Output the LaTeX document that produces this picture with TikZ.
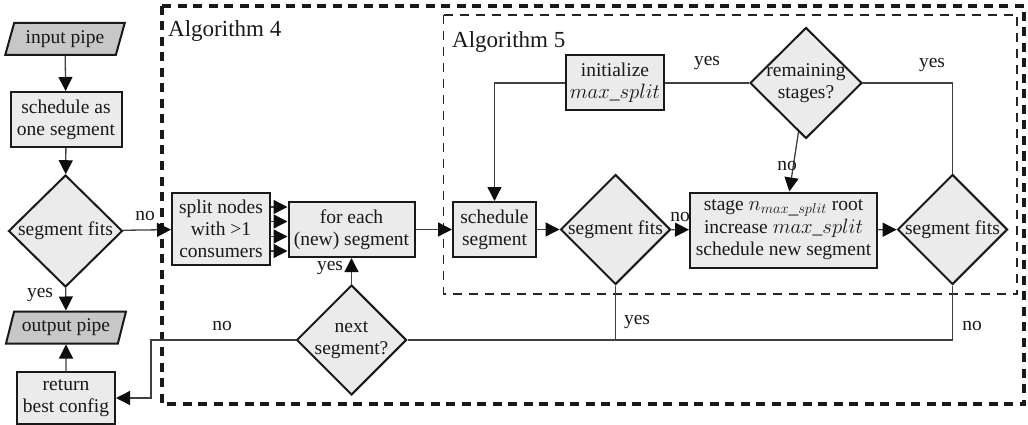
\documentclass[tikz,border=0pt]{standalone}
\usepackage{fontspec}
\setmainfont{Liberation Serif}
\usetikzlibrary{shapes.geometric,arrows.meta,calc}
\begin{document}
\begin{tikzpicture}[x=1pt,y=-1pt,
  txt/.style={font=\fontsize{19.5}{22}\selectfont, text=black!90},
  box/.style={txt, draw=black!90, line width=2pt, fill=black!8, align=center, inner sep=0pt},
  pipe/.style={txt, draw=black!90, line width=2pt, fill=black!22, trapezium, trapezium stretches=true,
     trapezium left angle=68, trapezium right angle=112, inner sep=0pt, minimum width=120pt, minimum height=32pt},
  dia/.style={txt, draw=black!90, line width=2pt, fill=black!8, diamond, align=center,
     inner xsep=-10pt, inner ysep=0pt, minimum width=110pt, minimum height=110pt},
  conn/.style={draw=black!75, line width=1.3pt},
  arr/.style={conn, -{Triangle[length=14pt,width=14pt,fill=black!95,color=black!95]}},
  lab/.style={txt, inner sep=0pt},
  alglab/.style={font=\fontsize{23}{26}\selectfont, text=black!90, inner sep=0pt, anchor=base west},
  outerbox/.style={draw=black!90, line width=4pt, dash pattern=on 9pt off 6.5pt},
  innerbox/.style={draw=black!85, line width=1.8pt, dash pattern=on 9pt off 7pt}
]
\useasboundingbox (0,0) rectangle (1028,425);

% frames
\draw[outerbox] (162,6) rectangle (1024,404);
\draw[innerbox] (443.5,15) rectangle (1017,294);
\node[alglab] (a4) at (168,37) {Algorithm 4};
\node[alglab] (a5) at (452,48) {Algorithm 5};

% left column
\node[pipe] (ip) at (65,39) {input pipe};
\node[box, minimum width=111pt, minimum height=55pt] (sched) at (66,119.5) {schedule as\\one segment};
\node[dia, minimum width=114pt, minimum height=112pt] (fits0) at (65.5,231) {segment fits};
\node[pipe] (op) at (66,327.5) {output pipe};
\node[box, minimum width=98pt, minimum height=52pt] (ret) at (66,398) {return\\best config};

% algorithm 4
\node[box, minimum width=98pt, minimum height=72pt] (split) at (221,229) {split nodes\\with >1\\consumers};
\node[box, minimum width=126pt, minimum height=55pt] (fe) at (351.5,229.5) {for each\\(new) segment};
\node[dia] (ns) at (351.5,340) {next\\segment?};

% algorithm 5
\node[box, minimum width=83pt, minimum height=55pt] (ss) at (494.5,229.5) {schedule\\segment};
\node[dia] (sf1) at (615.5,229.5) {segment fits};
\node[box, minimum width=187pt, minimum height=75pt] (stage) at (783.5,230)
  {stage $n_{max\_split}$ root\\[1pt]increase $max\_split$\\schedule new segment};
\node[dia] (sf2) at (952.5,229.5) {segment fits};
\node[box, minimum width=98pt, minimum height=55pt] (init) at (615,83) {initialize\\$max\_split$};
\node[dia, minimum width=112pt, minimum height=111pt] (rem) at (806,83) {remaining\\stages?};

\coordinate (nocorner) at (151,340);

% connectors
\draw[arr] (ip) -- (sched);
\draw[arr] (sched) -- (fits0);
\draw[arr] (fits0) -- (op);
\draw[arr] (ret) -- (op);
\draw[arr] (fits0) -- (split);
\foreach \s in {22,7.5,-7.5,-22}
  \draw[arr] ([yshift=\s pt]split.east) -- ([yshift=\s pt]split.east -| fe.west);
\draw[arr] (fe) -- (ss);
\draw[arr] (ns) -- (fe);
\draw[arr] (ns.west) -- (nocorner) |- (ret.east);
\draw[conn] (sf2.south) |- (ns.east);
\draw[conn] (sf1.south) -- (sf1.south |- ns.east);
\draw[arr] (ss) -- (sf1);
\draw[arr] (sf1) -- (stage);
\draw[arr] (stage) -- (sf2);
\draw[arr] (rem) -- (stage);
\draw[conn] (rem.west) -- (init.east);
\draw[arr] (init.west) -| (ss.north);
\draw[conn] (rem.east) -| (sf2.north);

% labels
\node[lab] (l1) at (145,216) {no};
\node[lab] (l2) at (40,295) {yes};
\node[lab] (l3) at (222,326) {no};
\node[lab] (l4) at (330,268) {yes};
\node[lab] (l5) at (707,63) {yes};
\node[lab] (l6) at (932,65) {yes};
\node[lab] (l7) at (787,166) {no};
\node[lab] (l8) at (680,217) {no};
\node[lab] (l9) at (637,322) {yes};
\node[lab] (l10) at (972,326) {no};
\end{tikzpicture}
\end{document}
